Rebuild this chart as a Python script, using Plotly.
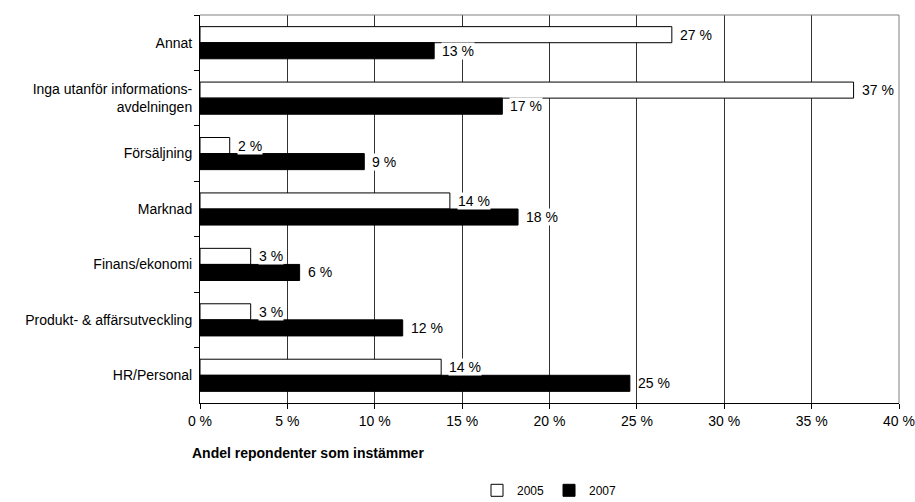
import plotly.graph_objects as go

categories = ["Annat", "Inga utanför informations-<br>avdelningen", "Försäljning", "Marknad",
              "Finans/ekonomi", "Produkt- & affärsutveckling", "HR/Personal"]
v2005 = [27.0, 37.4, 1.7, 14.3, 2.9, 2.9, 13.8]
v2007 = [13.4, 17.3, 9.4, 18.2, 5.7, 11.6, 24.6]
xticks = [0, 5, 10, 15, 20, 25, 30, 35, 40]
xticklabels = [f"{t} %" for t in xticks]

FONT = "Liberation Sans, Arial, sans-serif"

fig = go.Figure()
fig.add_trace(go.Bar(name="2005", y=categories, x=v2005, orientation="h",
                     marker=dict(color="white", line=dict(color="black", width=1))))
fig.add_trace(go.Bar(name="2007", y=categories, x=v2007, orientation="h",
                     marker=dict(color="black", line=dict(color="black", width=1))))

annotations = []
for cat, a, b in zip(categories, v2005, v2007):
    for val, shift in ((a, 8), (b, -8)):
        annotations.append(dict(x=val, y=cat, xref="x", yref="y", text=f"{round(val)} %",
                                showarrow=False, xanchor="left", yanchor="middle",
                                xshift=7, yshift=shift, bgcolor="white",
                                font=dict(family=FONT, size=14, color="black"), borderpad=0))
annotations.append(dict(x=-0.015, y=-0.13, xref="paper", yref="paper", xanchor="left", yanchor="middle",
                        text="<b>Andel repondenter som instämmer</b>", showarrow=False,
                        font=dict(family=FONT, size=14, color="black")))

fig.update_layout(
    width=915, height=502,
    barmode="group", bargap=0.42, bargroupgap=0,
    plot_bgcolor="white", paper_bgcolor="white",
    margin=dict(l=200, r=16, t=15, b=99, autoexpand=False),
    font=dict(family=FONT, size=14, color="black"),
    showlegend=True,
    legend=dict(orientation="h", x=0.5, xanchor="center", y=-0.225, yanchor="middle",
                font=dict(family=FONT, size=12), itemwidth=30, traceorder="normal"),
    annotations=annotations,
    shapes=[
        dict(type="line", xref="paper", yref="paper", x0=0, x1=1, y0=1, y1=1,
             line=dict(color="#808080", width=1)),
        dict(type="line", xref="paper", yref="paper", x0=1, x1=1, y0=0, y1=1,
             line=dict(color="#808080", width=1)),
    ],
)
fig.update_xaxes(range=[0, 40], tickvals=xticks, ticktext=xticklabels,
                 showgrid=True, gridcolor="#333333", gridwidth=1,
                 showline=True, linecolor="black", linewidth=1,
                 ticks="outside", ticklen=5, tickcolor="black",
                 zeroline=False, tickfont=dict(size=14))
fig.update_yaxes(autorange="reversed", type="category",
                 showline=True, linecolor="black", linewidth=1,
                 ticks="outside", ticklen=5, tickcolor="black", tickson="boundaries",
                 showgrid=False, tickfont=dict(size=14), ticklabelstandoff=4)

fig.write_html("out.html")
